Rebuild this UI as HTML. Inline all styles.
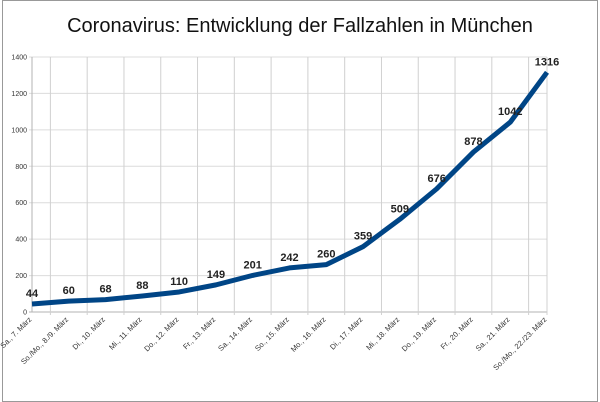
<!DOCTYPE html>
<html><head><meta charset="utf-8"><style>
body{margin:0;background:#fff}
svg{display:block;font-family:"Liberation Sans",sans-serif}
</style></head><body>
<svg id="c" width="600" height="402">
<rect x="2.5" y="0.5" width="595" height="401" fill="#fff" stroke="#999"/>
<text x="300" y="32" text-anchor="middle" font-size="20" fill="#111">Coronavirus: Entwicklung der Fallzahlen in München</text>
<g id="grid"></g><g id="axes"></g><g id="marks"></g>
</svg>
<script>
const categories=["Sa., 7. März","So./Mo., 8./9. März","Di., 10. März","Mi., 11. März","Do., 12. März","Fr., 13. März","Sa., 14. März","So., 15. März","Mo., 16. März","Di., 17. März","Mi., 18. März","Do., 19. März","Fr., 20. März","Sa., 21. März","So./Mo., 22./23. März"];
const cases=[44,60,68,88,110,149,201,242,260,359,509,676,878,1042,1316];
const yTicks=[0,200,400,600,800,1000,1200,1400];
const NS="http://www.w3.org/2000/svg";
const x0=32,x1=547,yTop=57,yBot=312;
const step=(x1-x0)/(categories.length-1);
const xs=i=>x0+i*step;
const ys=v=>yBot-(v/1400)*(yBot-yTop);
function mk(t,a,p){const e=document.createElementNS(NS,t);for(const k in a)e.setAttribute(k,a[k]);p.appendChild(e);return e;}
const grid=document.getElementById('grid'),axes=document.getElementById('axes'),marks=document.getElementById('marks');
yTicks.forEach(v=>{
  const l=mk('line',{x1:x0-3,x2:x1,y1:ys(v),y2:ys(v),stroke:v===0?'#b3b3b3':'#dcdcdc','stroke-width':1},grid);
  
  
  const t=mk('text',{x:x0-5,y:ys(v)+2.5,'text-anchor':'end','font-size':7,fill:'#333'},axes);
  t.textContent=v;
  
  
});
for(let i=0;i<categories.length;i++){
  const gx=i<categories.length-1?xs(i)+step/2:x1;
  const l=mk('line',{x1:gx,x2:gx,y1:yTop,y2:yBot+3,stroke:'#d0d0d0','stroke-width':1},grid);
  
  
}
const ax=mk('line',{x1:x0,x2:x0,y1:yTop,y2:yBot,stroke:'#b3b3b3'},axes);


categories.forEach((c,i)=>{
  const x=xs(i),y=yBot+8;
  const t=mk('text',{x:x,y:y,'text-anchor':'end','font-size':7.5,fill:'#333',transform:`rotate(-45 ${x} ${y})`},axes);
  t.textContent=c;
  
  
});
const pts=cases.map((v,i)=>xs(i)+','+ys(v)).join(' ');
const pl=mk('polyline',{points:pts,fill:'none',stroke:'#004586','stroke-width':5,'stroke-linejoin':'round'},marks);


cases.forEach((v,i)=>{
  const t=mk('text',{x:xs(i),y:ys(v)-7,'text-anchor':'middle','font-size':11,'font-weight':'bold',fill:'#222'},marks);
  t.textContent=v;
  
  
});
</script>
</body></html>
